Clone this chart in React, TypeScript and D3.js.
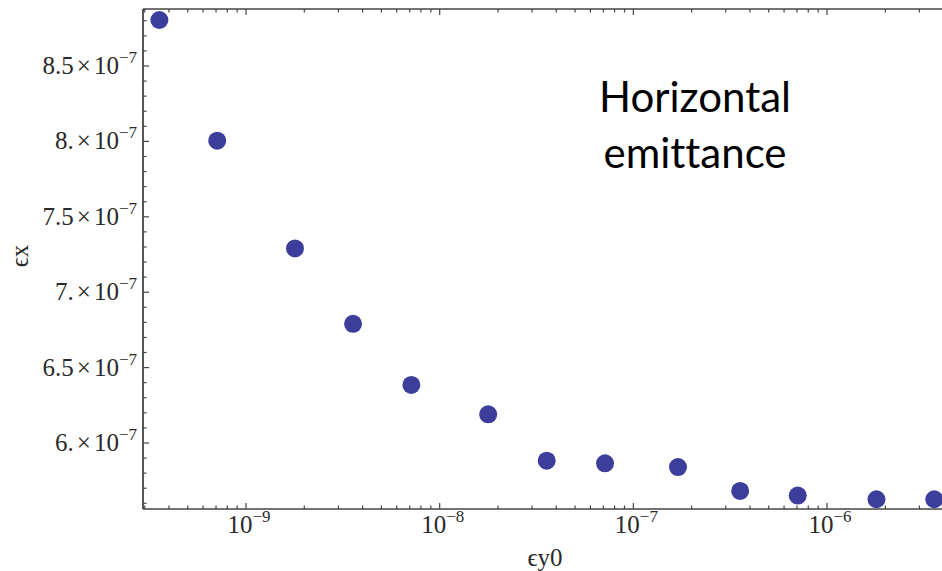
import React from "react";
import * as d3 from "d3";

const xValues = [3.57e-10, 7.1e-10, 1.79e-9, 3.57e-9, 7.14e-9, 1.78e-8, 3.57e-8, 7.14e-8, 1.7e-7, 3.56e-7, 7.06e-7, 1.8e-6, 3.58e-6];
const yValues = [8.805e-7, 8.005e-7, 7.29e-7, 6.79e-7, 6.385e-7, 6.19e-7, 5.883e-7, 5.865e-7, 5.84e-7, 5.682e-7, 5.651e-7, 5.627e-7, 5.627e-7];

const yMajorTicks = [6e-7, 6.5e-7, 7e-7, 7.5e-7, 8e-7, 8.5e-7];
const yMajorMantissas = ["6.", "6.5", "7.", "7.5", "8.", "8.5"];
const yTickExponent = "\u22127";
const xMajorExponents = [-9, -8, -7, -6];

const xDomain = [2.938e-10, 4.86e-6];
const yDomain = [5.5623e-7, 8.878e-7];

const W = 942;
const H = 571;
const left = 143;
const right = 960;
const top = 9;
const bottom = 509;

export default function App() {
  const x = d3.scaleLog().domain(xDomain).range([left, right]);
  const y = d3.scaleLinear().domain(yDomain).range([bottom, top]);

  const xMinor: number[] = [];
  for (let e = -10; e <= -5; e++) {
    for (let k = 1; k <= 9; k++) {
      const v = k * Math.pow(10, e);
      if (v >= xDomain[0] && v <= xDomain[1]) xMinor.push(v);
    }
  }
  const yMinor: number[] = [];
  for (let i = 56; i <= 88; i++) {
    const v = i * 1e-8;
    if (v >= yDomain[0] && v <= yDomain[1]) yMinor.push(v);
  }
  const isMajorY = (v: number) => Math.abs(Math.round(v * 2e7) - v * 2e7) < 1e-6;
  const isMajorX = (v: number) => Math.abs(Math.log10(v) - Math.round(Math.log10(v))) < 1e-6;

  const axisColor = "#444";
  const textColor = "#2a2a2a";
  const serif = "'Liberation Serif', 'DejaVu Serif', serif";
  const fs = 25;
  const sfs = 17;

  return (
    <svg width={W} height={H} style={{ position: "absolute", left: 0, top: 0, background: "#fff" }}>
      <rect x={0} y={0} width={W} height={H} fill="#fff" />
      <line x1={left} x2={right} y1={bottom} y2={bottom} stroke={axisColor} strokeWidth={1.6} />
      <line x1={left} x2={right} y1={top} y2={top} stroke={axisColor} strokeWidth={1.4} />
      <line x1={left} x2={left} y1={top} y2={bottom} stroke={axisColor} strokeWidth={1.8} />
      {xMinor.map((v, i) => {
        const len = isMajorX(v) ? 6 : 3.5;
        const px = x(v);
        return (
          <g key={"xt" + i}>
            <line x1={px} x2={px} y1={bottom} y2={bottom - len} stroke={axisColor} strokeWidth={1.2} />
            <line x1={px} x2={px} y1={top} y2={top + len} stroke={axisColor} strokeWidth={1.2} />
          </g>
        );
      })}
      {yMinor.map((v, i) => {
        const len = isMajorY(v) ? 6 : 3.5;
        const py = y(v);
        return <line key={"yt" + i} x1={left} x2={left + len} y1={py} y2={py} stroke={axisColor} strokeWidth={1.2} />;
      })}
      {yMajorTicks.map((v, i) => (
        <text key={"yl" + i} x={137} y={y(v) + 8} textAnchor="end" fontFamily={serif} fontSize={fs} fill={textColor}>
          {yMajorMantissas[i]}
          <tspan dx={3}>{"\u00d7"}</tspan>
          <tspan dx={3}>10</tspan>
          <tspan fontSize={sfs} dy={-11}>{yTickExponent}</tspan>
        </text>
      ))}
      {xMajorExponents.map((e, i) => (
        <text key={"xl" + i} x={x(Math.pow(10, e)) + 3} y={533} textAnchor="middle" fontFamily={serif} fontSize={fs} fill={textColor}>
          10
          <tspan fontSize={sfs} dy={-11}>{"\u2212" + Math.abs(e)}</tspan>
        </text>
      ))}
      <text x={545} y={566} textAnchor="middle" fontFamily={serif} fontSize={fs} fill={textColor}>
        {"\u03f5y0"}
      </text>
      <text transform="translate(28,256) rotate(-90)" textAnchor="middle" fontFamily={serif} fontSize={fs} fill={textColor}>
        {"\u03f5x"}
      </text>
      {xValues.map((v, i) => (
        <circle key={"p" + i} cx={x(v)} cy={y(yValues[i])} r={9} fill="#3d3d9c" />
      ))}
      <text x={695} y={112} textAnchor="middle" fontFamily="Lato, 'Open Sans', sans-serif" fontSize={42} fill="#000" style={{ fontVariantLigatures: "none" }}>
        Horizontal
      </text>
      <text x={695} y={168} textAnchor="middle" fontFamily="Lato, 'Open Sans', sans-serif" fontSize={42} fill="#000" style={{ fontVariantLigatures: "none" }}>
        emittance
      </text>
    </svg>
  );
}
